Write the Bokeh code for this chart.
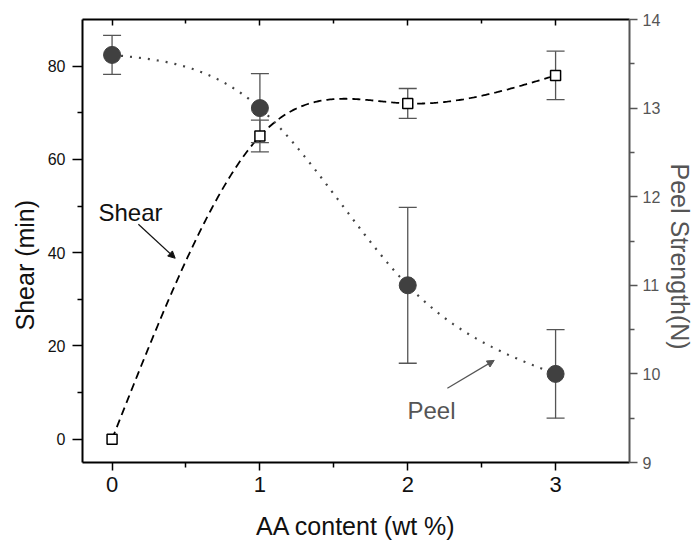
import numpy as np
from bokeh.plotting import figure
from bokeh.models import (Range1d, LinearAxis, FixedTicker, Label, Arrow,
                          NormalHead, ColumnDataSource, Title)
from bokeh.embed import file_html
from bokeh.resources import INLINE

# ---------------- data ----------------
aa_content = [0, 1, 2, 3]
shear_min = [0.0, 65.0, 72.0, 78.0]
shear_err = [0.0, 3.4, 3.2, 5.2]
peel_n = [13.6, 13.0, 11.0, 10.0]
peel_err = [0.22, 0.39, 0.88, 0.50]

x_ticks = [0, 1, 2, 3]
x_minor = [0.5, 1.5, 2.5]
shear_ticks = [0, 20, 40, 60, 80]
shear_minor = [10, 30, 50, 70]
peel_ticks = [9, 10, 11, 12, 13, 14]
peel_minor = [9.5, 10.5, 11.5, 12.5, 13.5]

FONT = "Liberation Sans"
GRAY = "#555555"
DARK = "#111111"


def natural_spline(xs, ys, n=300):
    """Natural cubic spline through the given points (for the smooth curves)."""
    xs = np.asarray(xs, float)
    ys = np.asarray(ys, float)
    k = len(xs)
    h = np.diff(xs)
    A = np.zeros((k, k))
    b = np.zeros(k)
    A[0, 0] = 1
    A[-1, -1] = 1
    for i in range(1, k - 1):
        A[i, i - 1] = h[i - 1]
        A[i, i] = 2 * (h[i - 1] + h[i])
        A[i, i + 1] = h[i]
        b[i] = 6 * ((ys[i + 1] - ys[i]) / h[i] - (ys[i] - ys[i - 1]) / h[i - 1])
    M = np.linalg.solve(A, b)
    xx = np.linspace(xs[0], xs[-1], n)
    yy = np.empty_like(xx)
    for j, x in enumerate(xx):
        i = min(np.searchsorted(xs, x, side="right") - 1, k - 2)
        t0 = xs[i + 1] - x
        t1 = x - xs[i]
        hi = h[i]
        yy[j] = (M[i] * t0 ** 3 / (6 * hi) + M[i + 1] * t1 ** 3 / (6 * hi)
                 + (ys[i] / hi - M[i] * hi / 6) * t0
                 + (ys[i + 1] / hi - M[i + 1] * hi / 6) * t1)
    return xx, yy


p = figure(width=697, height=543,
           x_range=Range1d(-0.2, 3.5), y_range=Range1d(-5, 90),
           output_backend="svg", toolbar_location=None,
           x_axis_location=None, y_axis_location=None,
           min_border_left=82, min_border_right=68,
           min_border_top=19, min_border_bottom=81)
p.extra_y_ranges = {"peel": Range1d(9, 14)}
p.outline_line_color = None
p.background_fill_color = "white"
p.border_fill_color = "white"
for g in p.grid:
    g.visible = False


def style_axis(ax, color, tick_out, tick_in, minor_out, minor_in, label_size, standoff):
    ax.axis_line_color = color
    ax.axis_line_width = 2
    ax.major_tick_line_color = color
    ax.minor_tick_line_color = color
    ax.major_tick_line_width = 1.5
    ax.minor_tick_line_width = 1.5
    ax.major_tick_out = tick_out
    ax.major_tick_in = tick_in
    ax.minor_tick_out = minor_out
    ax.minor_tick_in = minor_in
    ax.major_label_text_font = FONT
    ax.major_label_text_font_size = label_size
    ax.major_label_text_color = color if color != "black" else DARK
    ax.major_label_standoff = standoff


xb = LinearAxis(ticker=FixedTicker(ticks=x_ticks, minor_ticks=x_minor))
style_axis(xb, "black", 8, 0, 5, 0, "22px", 6)
xb.axis_label = "AA content (wt %)"
xb.axis_label_text_font = FONT
xb.axis_label_text_font_size = "25px"
xb.axis_label_text_font_style = "normal"
xb.axis_label_text_color = DARK
xb.axis_label_standoff = 17
p.add_layout(xb, "below")

xt = LinearAxis(ticker=FixedTicker(ticks=x_ticks, minor_ticks=x_minor))
style_axis(xt, "black", 0, 6, 0, 4, "0px", 0)
xt.major_label_text_alpha = 0
p.add_layout(xt, "above")

yl = LinearAxis(ticker=FixedTicker(ticks=shear_ticks, minor_ticks=shear_minor))
style_axis(yl, "black", 10, 0, 5, 0, "16px", 7)
p.add_layout(yl, "left")

yr = LinearAxis(y_range_name="peel",
                ticker=FixedTicker(ticks=peel_ticks, minor_ticks=peel_minor))
style_axis(yr, GRAY, 8, 0, 5, 0, "16px", 5)
p.add_layout(yr, "right")

# axis titles placed as side titles so they can sit off-centre like the reference
p.add_layout(Title(text="Shear (min)", align="left", offset=132,
                   text_font=FONT, text_font_size="25px", text_font_style="normal",
                   text_color=DARK, standoff=12), "left")
p.add_layout(Title(text="Peel Strength(N)", align="left", offset=144,
                   text_font=FONT, text_font_size="25px", text_font_style="normal",
                   text_color=GRAY, standoff=4), "right")

# smooth curves
sx, sy = natural_spline(aa_content, shear_min)
p.line(sx, sy, line_color="black", line_width=1.8, line_dash="8 5")
px_, py_ = natural_spline(aa_content, peel_n)
p.line(px_, py_, line_color="#444444", line_width=2.2, line_dash="2 7",
       y_range_name="peel")

# error bars - shear
s_idx = [i for i, e in enumerate(shear_err) if e > 0]
s_src = ColumnDataSource(dict(
    x=[aa_content[i] for i in s_idx],
    lo=[shear_min[i] - shear_err[i] for i in s_idx],
    hi=[shear_min[i] + shear_err[i] for i in s_idx]))
p.segment(x0="x", y0="lo", x1="x", y1="hi", source=s_src, line_color=GRAY, line_width=1.3)
p.scatter(x="x", y="lo", source=s_src, marker="dash", size=18, line_color=GRAY, line_width=1.3)
p.scatter(x="x", y="hi", source=s_src, marker="dash", size=18, line_color=GRAY, line_width=1.3)

# error bars - peel
pe_src = ColumnDataSource(dict(
    x=aa_content,
    lo=[v - e for v, e in zip(peel_n, peel_err)],
    hi=[v + e for v, e in zip(peel_n, peel_err)]))
p.segment(x0="x", y0="lo", x1="x", y1="hi", source=pe_src, line_color=GRAY,
          line_width=1.3, y_range_name="peel")
p.scatter(x="x", y="lo", source=pe_src, marker="dash", size=18, line_color=GRAY,
          line_width=1.3, y_range_name="peel")
p.scatter(x="x", y="hi", source=pe_src, marker="dash", size=18, line_color=GRAY,
          line_width=1.3, y_range_name="peel")

# markers
p.scatter(aa_content, peel_n, marker="circle", size=17, fill_color="#404040",
          line_color="#404040", y_range_name="peel")
p.scatter(aa_content, shear_min, marker="square", size=10, fill_color="white",
          line_color="black", line_width=1.5)

# annotations (positions in left-axis data coordinates)
shear_text_pos = (-0.092, 48.6)
peel_text_pos = (1.998, 6.2)
shear_arrow = (0.178, 46.1, 0.427, 38.8)
peel_arrow = (2.268, 10.9, 2.585, 16.9)

p.add_layout(Label(x=shear_text_pos[0], y=shear_text_pos[1], text="Shear",
                   text_font=FONT, text_font_size="24px", text_color=DARK,
                   text_baseline="alphabetic", text_align="left"))
p.add_layout(Label(x=peel_text_pos[0], y=peel_text_pos[1], text="Peel",
                   text_font=FONT, text_font_size="24px", text_color=GRAY,
                   text_baseline="alphabetic", text_align="left"))
p.add_layout(Arrow(end=NormalHead(size=7, fill_color=DARK, line_color=DARK),
                   x_start=shear_arrow[0], y_start=shear_arrow[1],
                   x_end=shear_arrow[2], y_end=shear_arrow[3],
                   line_color=DARK, line_width=1.2))
p.add_layout(Arrow(end=NormalHead(size=7, fill_color=GRAY, line_color=GRAY),
                   x_start=peel_arrow[0], y_start=peel_arrow[1],
                   x_end=peel_arrow[2], y_end=peel_arrow[3],
                   line_color=GRAY, line_width=1.2))

open("out.html", "w").write(file_html(p, INLINE))
